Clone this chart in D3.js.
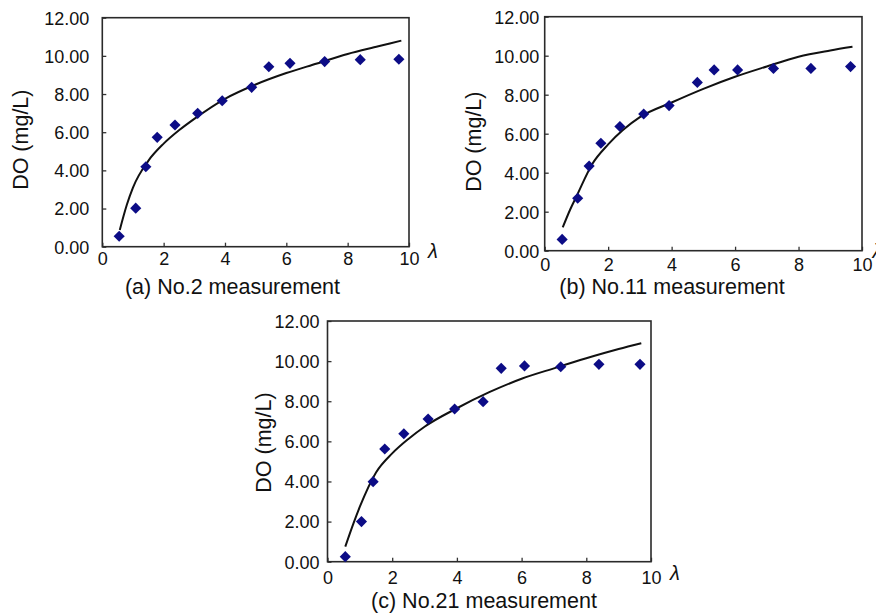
<!DOCTYPE html>
<html><head><meta charset="utf-8">
<script src="https://cdn.jsdelivr.net/npm/d3@7"></script>
<style>body{margin:0;background:#fff}svg{display:block}text{font-family:"Liberation Sans",Arial,sans-serif;fill:#111}</style>
</head><body>
<svg id="chart" width="876" height="613"></svg>
<script>
// ---- data ----
const xTickValues = [0, 2, 4, 6, 8, 10];
const yTickValues = [0, 2, 4, 6, 8, 10, 12];
const panelCaptions = ["(a) No.2 measurement", "(b) No.11 measurement", "(c) No.21 measurement"];
const yTitle = "DO (mg/L)";
const xTitle = "λ";

// measured points
const lambdaA = [0.55, 1.09, 1.42, 1.79, 2.37, 3.11, 3.91, 4.87, 5.43, 6.12, 7.25, 8.41, 9.67];
const doA     = [0.55, 2.02, 4.19, 5.73, 6.38, 6.99, 7.65, 8.35, 9.43, 9.61, 9.70, 9.80, 9.82];
const lambdaB = [0.55, 1.04, 1.40, 1.77, 2.37, 3.12, 3.92, 4.81, 5.34, 6.08, 7.21, 8.39, 9.64];
const doB     = [0.58, 2.69, 4.34, 5.51, 6.37, 7.01, 7.44, 8.63, 9.27, 9.27, 9.35, 9.35, 9.44];
const lambdaC = [0.55, 1.05, 1.41, 1.77, 2.36, 3.11, 3.93, 4.81, 5.37, 6.09, 7.21, 8.39, 9.66];
const doC     = [0.25, 2.00, 3.99, 5.62, 6.38, 7.11, 7.61, 7.98, 9.64, 9.76, 9.72, 9.84, 9.84];

// fitted curves
const fitLambdaA = [0.57, 0.8, 1.0, 1.5, 2.0, 2.5, 3.0, 4.0, 5.0, 6.0, 7.0, 8.0, 9.0, 9.75];
const fitDoA     = [0.88, 2.2, 3.1, 4.5, 5.4, 6.1, 6.7, 7.75, 8.5, 9.1, 9.6, 10.1, 10.5, 10.8];
const fitLambdaB = [0.57, 0.8, 1.0, 1.5, 2.0, 3.0, 4.0, 5.0, 6.0, 7.0, 8.0, 9.0, 9.7];
const fitDoB     = [1.2, 2.1, 2.78, 4.45, 5.45, 6.85, 7.6, 8.3, 8.92, 9.45, 9.95, 10.27, 10.46];
const fitLambdaC = [0.55, 0.8, 1.0, 1.5, 2.0, 2.5, 3.0, 4.0, 5.0, 6.0, 7.0, 8.0, 9.0, 9.7];
const fitDoC     = [0.75, 1.9, 2.74, 4.45, 5.4, 6.12, 6.73, 7.65, 8.45, 9.12, 9.64, 10.14, 10.6, 10.89];

// ---- layout ----
const layouts = [
  {l:102.3, r:409, t:17.7, b:246.7, ylabGap:13, xlabDy:18, titleX:20.7, titleY:139.7, capX:232.5, capY:293.5, lamX:428, lamY:258},
  {l:544.7, r:862, t:16.7, b:250.7, ylabGap:5.5, xlabDy:20.5, titleX:473.3, titleY:141.7, capX:672, capY:294, lamX:872.5, lamY:258},
  {l:327.5, r:651, t:321, b:561.7, ylabGap:8, xlabDy:22, titleX:263.3, titleY:442.5, capX:484, capY:608, lamX:670, lamY:580}
];
const pointSets = [[lambdaA, doA], [lambdaB, doB], [lambdaC, doC]];
const fitSets = [[fitLambdaA, fitDoA], [fitLambdaB, fitDoB], [fitLambdaC, fitDoC]];

const svg = d3.select("#chart");
const fmt = d3.format(".2f");

layouts.forEach((L, i) => {
  const x = d3.scaleLinear().domain([0, 10]).range([L.l, L.r]);
  const y = d3.scaleLinear().domain([0, 12]).range([L.b, L.t]);
  const g = svg.append("g");

  const xAxis = d3.axisBottom(x).tickValues(xTickValues).tickSizeInner(-4).tickSizeOuter(0).tickPadding(0).tickFormat(d3.format("d"));
  const yAxis = d3.axisLeft(y).tickValues(yTickValues).tickSizeInner(-4).tickSizeOuter(0).tickFormat(fmt);
  const gx = g.append("g").attr("transform", `translate(0,${L.b})`).call(xAxis);
  const gy = g.append("g").attr("transform", `translate(${L.l},0)`).call(yAxis);
  [gx, gy].forEach(a => {
    a.select(".domain").remove();
    a.selectAll(".tick line").attr("stroke", "#333").attr("stroke-width", 1.3);
    a.selectAll("text").attr("font-size", 18).attr("fill", "#111").attr("font-family", "Liberation Sans, Arial, sans-serif");
  });
  gx.selectAll("text").attr("dy", null).attr("y", L.xlabDy);
  gy.selectAll("text").attr("x", -L.ylabGap).attr("dy", "0.35em");

  g.append("rect").attr("x", L.l).attr("y", L.t).attr("width", L.r - L.l).attr("height", L.b - L.t)
    .attr("fill", "none").attr("stroke", "#2a2a2a").attr("stroke-width", 1.6);

  const [fx, fy] = fitSets[i];
  const fitData = fx.map((v, k) => [v, fy[k]]);
  g.append("path").datum(fitData)
    .attr("d", d3.line().x(d => x(d[0])).y(d => y(d[1])).curve(d3.curveMonotoneX))
    .attr("fill", "none").attr("stroke", "#111").attr("stroke-width", 2);

  const [px, py] = pointSets[i];
  const pts = px.map((v, k) => [v, py[k]]);
  g.selectAll(".pt").data(pts).join("path")
    .attr("d", d3.symbol().type(d3.symbolSquare).size(62))
    .attr("transform", d => `translate(${x(d[0])},${y(d[1])}) rotate(45)`)
    .attr("fill", "#0c0c86");

  g.append("text").attr("transform", `translate(${L.titleX},${L.titleY}) rotate(-90)`)
    .attr("text-anchor", "middle").attr("dy", "0.35em").attr("font-size", 21.5).text(yTitle);
  g.append("text").attr("x", L.capX).attr("y", L.capY).attr("text-anchor", "middle").attr("font-size", 21.5).text(panelCaptions[i]);
  g.append("text").attr("x", L.lamX).attr("y", L.lamY).attr("font-size", 20).attr("font-style", "italic").text(xTitle);
});
</script>
</body></html>
